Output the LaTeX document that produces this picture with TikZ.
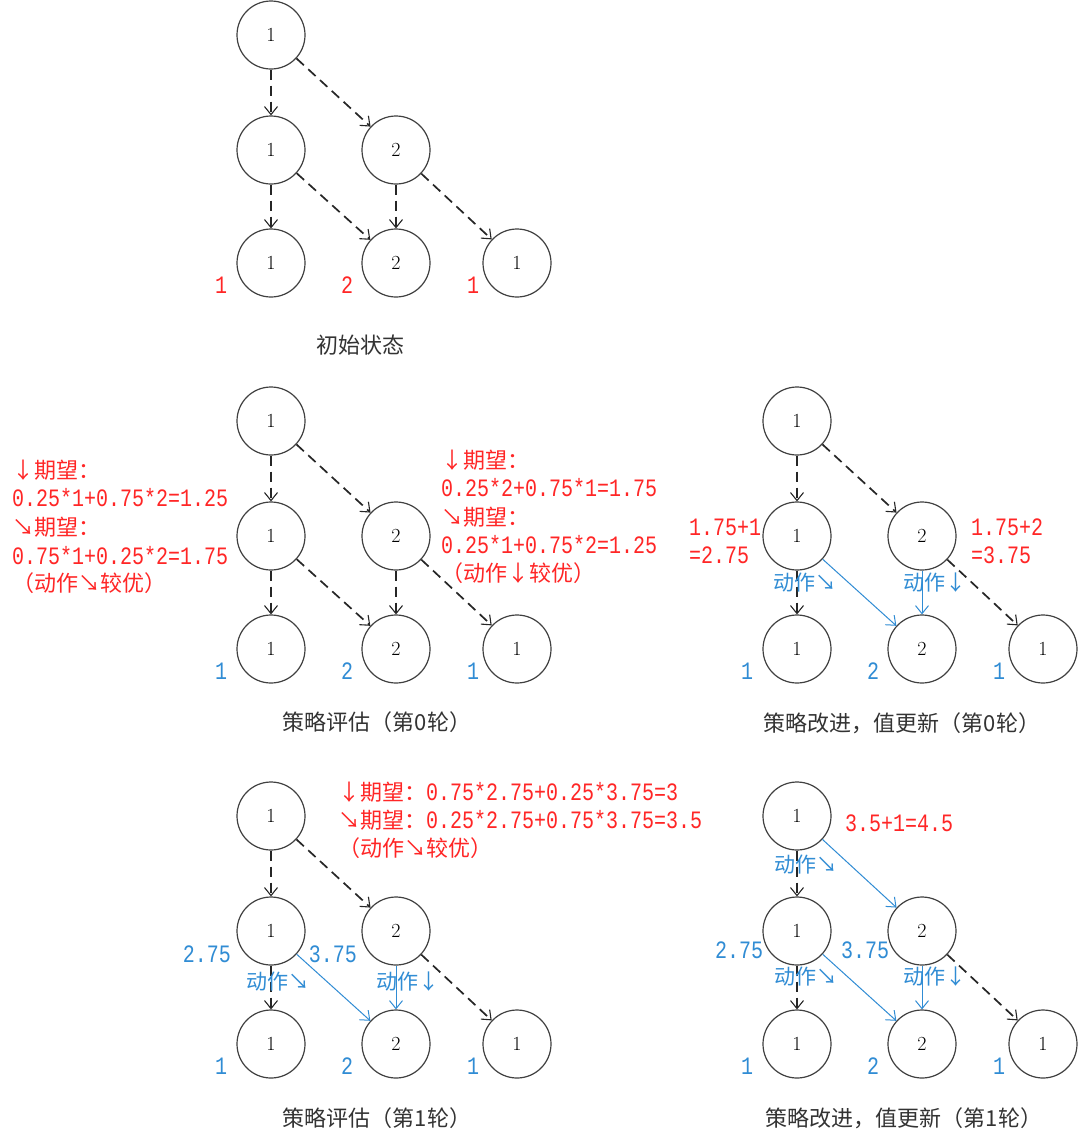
\documentclass[tikz,border=0pt]{standalone}
\usepackage{fontspec}
\usetikzlibrary{arrows.meta}
\newfontfamily\cjk{Noto Sans CJK SC}
\newfontfamily\mono[FakeStretch=0.8]{Liberation Mono}
\definecolor{myred}{RGB}{255,38,38}
\definecolor{myblue}{RGB}{48,140,212}
\definecolor{ink}{RGB}{51,51,51}
\newcommand\nm[1]{{\mono\fontsize{25}{28}\selectfont #1}}
% prefix, x offset, y offset, leaf label colour
\newcommand\mytree[4]{%
  \node[state] (#1t) at ({#2+271},{#3+35}) {1};
  \node[state] (#1a) at ({#2+271},{#3+150}) {1};
  \node[state] (#1b) at ({#2+396},{#3+150}) {2};
  \node[state] (#1c) at ({#2+271},{#3+263}) {1};
  \node[state] (#1d) at ({#2+396},{#3+263}) {2};
  \node[state] (#1e) at ({#2+517},{#3+263}) {1};
  \node[num,text=#4] (#1l1) at ({#2+221},{#3+285}) {1};
  \node[num,text=#4] (#1l2) at ({#2+347},{#3+285}) {2};
  \node[num,text=#4] (#1l3) at ({#2+473},{#3+285}) {1};
}
\begin{document}
\begin{tikzpicture}[x=1pt,y=-1pt,
  state/.style={circle,draw=black!75,line width=1.2pt,minimum size=68pt,inner sep=0pt,font=\fontsize{20}{24}\selectfont},
  dsh/.style={draw=black!85,line width=1.7pt,dash pattern=on 10pt off 6pt,-{Straight Barb[length=8pt,width=13pt,line width=1.1pt]}},
  bl/.style={draw=myblue,line width=1pt,-{Straight Barb[length=8pt,width=13pt,line width=1pt]}},
  redt/.style={text=myred,font=\cjk\fontsize{22}{26}\selectfont,inner sep=0pt,anchor=west},
  bluet/.style={text=myblue,font=\cjk\fontsize{21}{25}\selectfont,inner sep=0pt,anchor=west},
  num/.style={text=myblue,font=\mono\fontsize{25}{28}\selectfont,inner sep=0pt},
  rnum/.style={text=myred,font=\mono\fontsize{25}{28}\selectfont,inner sep=0pt,anchor=west},
  captxt/.style={text=ink,font=\cjk\fontsize{22}{26}\selectfont,inner sep=0pt}]
\useasboundingbox[fill=white] (0,0) rectangle (1080,1144);

% ---------- panel 1: initial state ----------
\mytree{p1}{0}{0}{myred}
\draw[dsh] (p1t) -- (p1a);
\draw[dsh] (p1t) -- (p1b);
\draw[dsh] (p1a) -- (p1c);
\draw[dsh] (p1a) -- (p1d);
\draw[dsh] (p1b) -- (p1d);
\draw[dsh] (p1b) -- (p1e);
\node[captxt] (cap1) at (360,345) {初始状态};

% ---------- panel 2: policy evaluation round 0 ----------
\mytree{p2}{0}{386}{myblue}
\draw[dsh] (p2t) -- (p2a);
\draw[dsh] (p2t) -- (p2b);
\draw[dsh] (p2a) -- (p2c);
\draw[dsh] (p2a) -- (p2d);
\draw[dsh] (p2b) -- (p2d);
\draw[dsh] (p2b) -- (p2e);
\node[redt] (p2L1) at (12,470) {↓期望：};
\node[redt] (p2L2) at (12,498) {\nm{0.25*1+0.75*2=1.25}};
\node[redt] (p2L3) at (12,527) {↘期望：};
\node[redt] (p2L4) at (12,556) {\nm{0.75*1+0.25*2=1.75}};
\node[redt] (p2L5) at (12,583) {（动作↘较优）};
\node[redt] (p2R1) at (441,460) {↓期望：};
\node[redt] (p2R2) at (441,488) {\nm{0.25*2+0.75*1=1.75}};
\node[redt] (p2R3) at (441,517) {↘期望：};
\node[redt] (p2R4) at (441,545) {\nm{0.25*1+0.75*2=1.25}};
\node[redt] (p2R5) at (441,573) {（动作↓较优）};
\node[captxt] (cap2) at (377,722) {策略评估（第0轮）};

% ---------- panel 3: policy improvement round 0 ----------
\mytree{p3}{526}{386}{myblue}
\draw[dsh] (p3t) -- (p3a);
\draw[dsh] (p3t) -- (p3b);
\draw[dsh] (p3a) -- (p3c);
\draw[bl] (p3a) -- (p3d);
\draw[bl] (p3b) -- (p3d);
\draw[dsh] (p3b) -- (p3e);
\node[rnum] (p3v1) at (689,527) {1.75+1};
\node[rnum] (p3v2) at (689,555) {=2.75};
\node[rnum] (p3v3) at (971,527) {1.75+2};
\node[rnum] (p3v4) at (971,555) {=3.75};
\node[bluet] (p3act1) at (773,583) {动作↘};
\node[bluet] (p3act2) at (903,583) {动作↓};
\node[captxt] (cap3) at (902,723) {策略改进，值更新（第0轮）};

% ---------- panel 4: policy evaluation round 1 ----------
\mytree{p4}{0}{781}{myblue}
\draw[dsh] (p4t) -- (p4a);
\draw[dsh] (p4t) -- (p4b);
\draw[dsh] (p4a) -- (p4c);
\draw[bl] (p4a) -- (p4d);
\draw[bl] (p4b) -- (p4d);
\draw[dsh] (p4b) -- (p4e);
\node[redt] (p4R1) at (338,792) {↓期望：\nm{0.75*2.75+0.25*3.75=3}};
\node[redt] (p4R2) at (338,820) {↘期望：\nm{0.25*2.75+0.75*3.75=3.5}};
\node[redt] (p4R3) at (338,848) {（动作↘较优）};
\node[num] (p4v1) at (207,954) {2.75};
\node[num] (p4v2) at (333,954) {3.75};
\node[bluet] (p4act1) at (246,982) {动作↘};
\node[bluet] (p4act2) at (376,982) {动作↓};
\node[captxt] (cap4) at (377,1118) {策略评估（第1轮）};

% ---------- panel 5: policy improvement round 1 ----------
\mytree{p5}{526}{781}{myblue}
\draw[dsh] (p5t) -- (p5a);
\draw[bl] (p5t) -- (p5b);
\draw[dsh] (p5a) -- (p5c);
\draw[bl] (p5a) -- (p5d);
\draw[bl] (p5b) -- (p5d);
\draw[dsh] (p5b) -- (p5e);
\node[rnum] (p5v0) at (845,823) {3.5+1=4.5};
\node[bluet] (p5act0) at (774,865) {动作↘};
\node[num] (p5v1) at (739,950) {2.75};
\node[num] (p5v2) at (865,950) {3.75};
\node[bluet] (p5act1) at (774,977) {动作↘};
\node[bluet] (p5act2) at (903,977) {动作↓};
\node[captxt] (cap5) at (904,1118) {策略改进，值更新（第1轮）};
\end{tikzpicture}
\end{document}
